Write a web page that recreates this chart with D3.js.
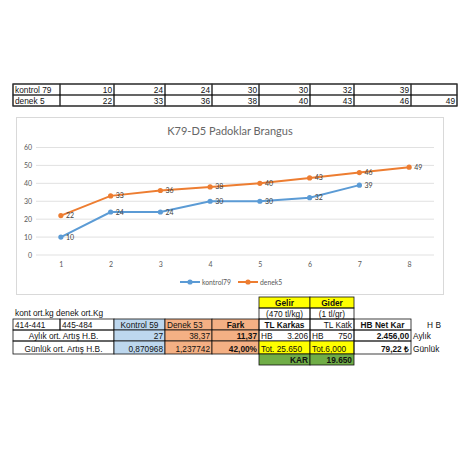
<!DOCTYPE html>
<html>
<head>
<meta charset="utf-8">
<script src="https://cdn.jsdelivr.net/npm/d3@7"></script>
<style>
  body { margin: 0; background: #fff; }
  svg { display: block; }
</style>
</head>
<body>
<svg id="sheet" width="465" height="450"></svg>
<script>
// veriler
var days = [1, 2, 3, 4, 5, 6, 7, 8];
var kontrol = [10, 24, 24, 30, 30, 32, 39];
var denek = [22, 33, 36, 38, 40, 43, 46, 49];
var seriesNames = ["kontrol 79", "denek 5"];
var yTicks = [0, 10, 20, 30, 40, 50, 60];
var chartTitle = "K79-D5 Padoklar Brangus";

// alt tablo metinleri
var noteText = "kont ort.kg denek ort.Kg";
var gelirGider = ["Gelir", "Gider"];
var birimler = ["(470 tl/kg)", "(1 tl/gr)"];
var headerRow = ["414-441", "445-484", "Kontrol 59", "Denek 53", "Fark", "TL Karkas", "TL Katk", "HB Net Kar", "H B"];
var aylikRow = ["Aylık ort. Artış H.B.", "27", "38,37", "11,37", "3.206", "750", "2.456,00", "Aylık"];
var gunlukRow = ["Günlük ort. Artış H.B.", "0,870968", "1,237742", "42,00%", "Tot. 25.650", "Tot.6,000", "79,22 ₺", "Günlük"];
var karRow = ["KAR", "19.650"];

var colors = ["#5B9BD5", "#ED7D31"];
var cols = [13, 60, 114, 165, 212, 259, 310, 354, 411, 457];
var svg = d3.select("#sheet");
var cellFont = "Liberation Sans, Arial, sans-serif";

function cell(x0, x1, y0, y1, o){
	o = o || {};
	if(o.fill || o.border){
		svg.append("rect")
			.attr("x", x0).attr("y", y0)
			.attr("width", x1 - x0).attr("height", y1 - y0)
			.attr("fill", o.fill || "none")
			.attr("stroke", o.border ? "#111" : "none")
			.attr("stroke-width", 0.8);
	}
	if(o.text != null){
		var anchor = o.align == "r" ? "end" : (o.align == "c" ? "middle" : "start");
		var tx = o.align == "r" ? x1 - 2 : (o.align == "c" ? (x0 + x1) / 2 : x0 + 2);
		svg.append("text")
			.attr("x", tx).attr("y", y1 - 2.5)
			.attr("text-anchor", anchor)
			.attr("font-family", cellFont)
			.attr("font-size", 8.3)
			.attr("font-weight", o.bold ? "bold" : "normal")
			.attr("fill", "#111")
			.text(o.text);
	}
}

/* Üst tablo */
var topRows = [84, 95, 106];
[kontrol, denek].forEach(function(vals, r){
	var y0 = topRows[r], y1 = topRows[r + 1];
	cell(cols[0], cols[1], y0, y1, {border: true, text: seriesNames[r]});
	days.forEach(function(d, i){
		cell(cols[i + 1], cols[i + 2], y0, y1, {border: true, align: "r", text: vals[i] != null ? vals[i] : null});
	});
});
svg.append("rect").attr("x", cols[0]).attr("y", topRows[0])
	.attr("width", cols[9] - cols[0]).attr("height", topRows[2] - topRows[0])
	.attr("fill", "none").attr("stroke", "#333").attr("stroke-width", 1.2);

/* Grafik */
svg.append("rect").attr("x", 16.5).attr("y", 117.5).attr("width", 427).attr("height", 177)
	.attr("fill", "#fff").attr("stroke", "#d9d9d9");

svg.append("text").attr("x", 230).attr("y", 135)
	.attr("text-anchor", "middle")
	.attr("font-family", "Lato, 'Open Sans', sans-serif")
	.attr("font-size", 11).attr("fill", "#666")
	.text(chartTitle);

var x = d3.scalePoint().domain(days).range([36, 434]).padding(0.5);
var y = d3.scaleLinear().domain([0, 60]).range([255, 147.5]);

var grid = svg.append("g").attr("class", "grid");
grid.selectAll("line").data(yTicks).enter().append("line")
	.attr("x1", 36).attr("x2", 434)
	.attr("y1", function(d){ return y(d); }).attr("y2", function(d){ return y(d); })
	.attr("stroke", "#d9d9d9").attr("stroke-width", 0.8);

var yAxis = svg.append("g").attr("transform", "translate(32,0)")
	.call(d3.axisLeft(y).tickValues(yTicks).tickSize(0).tickPadding(0));
yAxis.select(".domain").remove();

var xAxis = svg.append("g").attr("transform", "translate(0,260)")
	.call(d3.axisBottom(x).tickSize(0).tickPadding(2));
xAxis.select(".domain").remove();

svg.selectAll(".tick text")
	.attr("font-family", "Lato, 'Open Sans', sans-serif")
	.attr("font-size", 7).attr("fill", "#595959");

var line = d3.line()
	.x(function(d, i){ return x(days[i]); })
	.y(function(d){ return y(d); });

[kontrol, denek].forEach(function(vals, s){
	var g = svg.append("g");
	g.append("path").datum(vals)
		.attr("d", line)
		.attr("fill", "none")
		.attr("stroke", colors[s]).attr("stroke-width", 2);
	g.selectAll("circle").data(vals).enter().append("circle")
		.attr("cx", function(d, i){ return x(days[i]); })
		.attr("cy", function(d){ return y(d); })
		.attr("r", 2.6).attr("fill", colors[s]);
	g.selectAll("text").data(vals).enter().append("text")
		.attr("x", function(d, i){ return x(days[i]) + 5; })
		.attr("y", function(d){ return y(d) + 2.5; })
		.attr("font-family", "Lato, 'Open Sans', sans-serif")
		.attr("font-size", 7).attr("fill", "#404040")
		.text(function(d){ return d; });
});

// lejant
var legendX = [180, 238];
seriesNames.forEach(function(n, s){
	var lx = legendX[s], ly = 282;
	svg.append("line").attr("x1", lx).attr("x2", lx + 20).attr("y1", ly).attr("y2", ly)
		.attr("stroke", colors[s]).attr("stroke-width", 2);
	svg.append("circle").attr("cx", lx + 10).attr("cy", ly).attr("r", 2.6).attr("fill", colors[s]);
	svg.append("text").attr("x", lx + 22).attr("y", ly + 2.5)
		.attr("font-family", "Lato, 'Open Sans', sans-serif")
		.attr("font-size", 6.8).attr("fill", "#595959")
		.text(n.replace(" ", ""));
});

/* Alt tablo */
var rows = [297, 308, 319, 330, 341, 354, 365];
var blue = "#BDD7EE", orange = "#F4B084", yellow = "#FFFF00", green = "#70AD47";

svg.append("text").attr("x", 15).attr("y", rows[2] - 3)
	.attr("font-family", cellFont).attr("font-size", 8.3).attr("fill", "#111")
	.text(noteText);

gelirGider.forEach(function(t, i){
	cell(cols[5 + i], cols[6 + i], rows[0], rows[1], {border: true, fill: yellow, align: "c", bold: true, text: t});
	cell(cols[5 + i], cols[6 + i], rows[1], rows[2], {border: true, align: "c", text: birimler[i]});
});

// başlık satırı
var headAlign = ["l", "l", "c", "l", "c", "c", "r", "c", "c"];
var headBold = [false, false, false, false, true, true, false, true, false];
var headFill = [null, null, blue, orange, orange, null, null, null, null];
headerRow.forEach(function(t, i){
	cell(cols[i], cols[i + 1], rows[2], rows[3], {
		border: i < 8, fill: headFill[i], align: headAlign[i], bold: headBold[i], text: t
	});
});

[aylikRow, gunlukRow].forEach(function(row, r){
	var y0 = rows[3 + r], y1 = rows[4 + r];
	cell(cols[0], cols[2], y0, y1, {border: true, align: "c", text: row[0]});
	cell(cols[2], cols[3], y0, y1, {border: true, fill: blue, align: "r", text: row[1]});
	cell(cols[3], cols[4], y0, y1, {border: true, fill: orange, align: "r", text: row[2]});
	cell(cols[4], cols[5], y0, y1, {border: true, fill: orange, align: "r", bold: true, text: row[3]});
	if(r == 0){
		cell(cols[5], cols[6], y0, y1, {border: true, align: "r", text: row[4]});
		cell(cols[5], cols[6], y0, y1, {text: "HB"});
		cell(cols[6], cols[7], y0, y1, {border: true, align: "r", text: row[5]});
		cell(cols[6], cols[7], y0, y1, {text: "HB"});
	}
	else{
		cell(cols[5], cols[6], y0, y1, {border: true, fill: yellow, text: row[4]});
		cell(cols[6], cols[7], y0, y1, {border: true, fill: yellow, text: row[5]});
	}
	cell(cols[7], cols[8], y0, y1, {border: true, align: "r", bold: true, text: row[6]});
	cell(cols[8], cols[9], y0, y1, {text: row[7]});
});

karRow.forEach(function(t, i){
	cell(cols[5 + i], cols[6 + i], rows[5], rows[6], {border: true, fill: green, align: "r", bold: true, text: t});
});
</script>
</body>
</html>
